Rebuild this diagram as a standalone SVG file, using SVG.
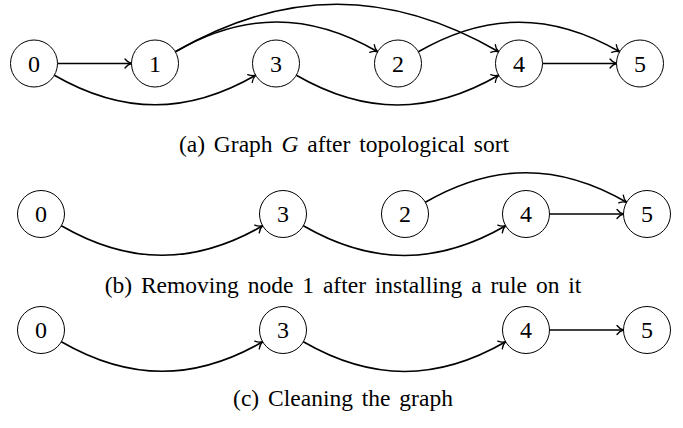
<svg xmlns="http://www.w3.org/2000/svg" width="683" height="428" viewBox="0 0 683 428">
<style>
.node circle{fill:#fff;stroke:#000;stroke-width:1}
.node text{font-family:"Liberation Serif","Times New Roman",serif;font-size:24px;text-anchor:middle;fill:#000}
.edge{fill:none;stroke:#000;stroke-width:1.6;marker-end:url(#arr)}
.cap{font-family:"Liberation Serif","Times New Roman",serif;font-size:23.5px;word-spacing:3px;text-anchor:middle;fill:#000}
</style>
<defs>
<marker id="arr" markerUnits="userSpaceOnUse" markerWidth="12" markerHeight="12" viewBox="-8 -6 10 12" refX="0" refY="0" orient="auto" overflow="visible">
<path d="M-6.5,-4.5 C-4.5,-1.8 -1.5,-0.4 0,0 C-1.5,0.4 -4.5,1.8 -6.5,4.5" fill="none" stroke="#000" stroke-width="1.3" stroke-linecap="round"/>
</marker>
</defs>
<g id="connectors">
<!-- row a -->
<path class="edge" d="M57.5,63.5 L131.5,63.5"/>
<path class="edge" d="M54.35,75.25 C122.6,114.65 187.45,114.65 255.65,75.25"/>
<path class="edge" d="M175.35,51.75 C243.95,12.15 309.05,12.15 377.65,51.75"/>
<path class="edge" d="M175.35,51.75 C284.95,-11.55 389.05,-11.55 498.65,51.75"/>
<path class="edge" d="M296.35,75.25 C364.95,114.85 430.05,114.85 498.65,75.25"/>
<path class="edge" d="M418.35,51.75 C486.55,12.35 551.45,12.35 619.65,51.75"/>
<path class="edge" d="M542.5,63.5 L616.5,63.5"/>
<!-- row b -->
<path class="edge" d="M61.35,225.75 C129.55,265.15 194.45,265.15 262.65,225.75"/>
<path class="edge" d="M303.35,225.75 C371.95,265.35 437.05,265.35 505.65,225.75"/>
<path class="edge" d="M425.35,202.25 C493.55,162.85 558.45,162.85 626.65,202.25"/>
<path class="edge" d="M549.5,214 L623.5,214"/>
<!-- row c -->
<path class="edge" d="M61.35,341.75 C129.55,381.15 194.45,381.15 262.65,341.75"/>
<path class="edge" d="M303.35,341.75 C371.95,381.35 437.05,381.35 505.65,341.75"/>
<path class="edge" d="M549.5,330 L623.5,330"/>
</g>
<g id="a0" class="node"><circle cx="34" cy="63.5" r="23.5"/><text x="34" y="71.5">0</text></g>
<g id="a1" class="node"><circle cx="155" cy="63.5" r="23.5"/><text x="155" y="71.5">1</text></g>
<g id="a3" class="node"><circle cx="276" cy="63.5" r="23.5"/><text x="276" y="71.5">3</text></g>
<g id="a2" class="node"><circle cx="398" cy="63.5" r="23.5"/><text x="398" y="71.5">2</text></g>
<g id="a4" class="node"><circle cx="519" cy="63.5" r="23.5"/><text x="519" y="71.5">4</text></g>
<g id="a5" class="node"><circle cx="640" cy="63.5" r="23.5"/><text x="640" y="71.5">5</text></g>
<text class="cap" x="344" y="152">(a) Graph <tspan font-style="italic">G</tspan> after topological sort</text>
<g id="b0" class="node"><circle cx="41" cy="214" r="23.5"/><text x="41" y="222">0</text></g>
<g id="b3" class="node"><circle cx="283" cy="214" r="23.5"/><text x="283" y="222">3</text></g>
<g id="b2" class="node"><circle cx="405" cy="214" r="23.5"/><text x="405" y="222">2</text></g>
<g id="b4" class="node"><circle cx="526" cy="214" r="23.5"/><text x="526" y="222">4</text></g>
<g id="b5" class="node"><circle cx="647" cy="214" r="23.5"/><text x="647" y="222">5</text></g>
<text class="cap" x="343" y="293">(b) Removing node 1 after installing a rule on it</text>
<g id="c0" class="node"><circle cx="41" cy="330" r="23.5"/><text x="41" y="338">0</text></g>
<g id="c3" class="node"><circle cx="283" cy="330" r="23.5"/><text x="283" y="338">3</text></g>
<g id="c4" class="node"><circle cx="526" cy="330" r="23.5"/><text x="526" y="338">4</text></g>
<g id="c5" class="node"><circle cx="647" cy="330" r="23.5"/><text x="647" y="338">5</text></g>
<text class="cap" x="343" y="406">(c) Cleaning the graph</text>
</svg>
